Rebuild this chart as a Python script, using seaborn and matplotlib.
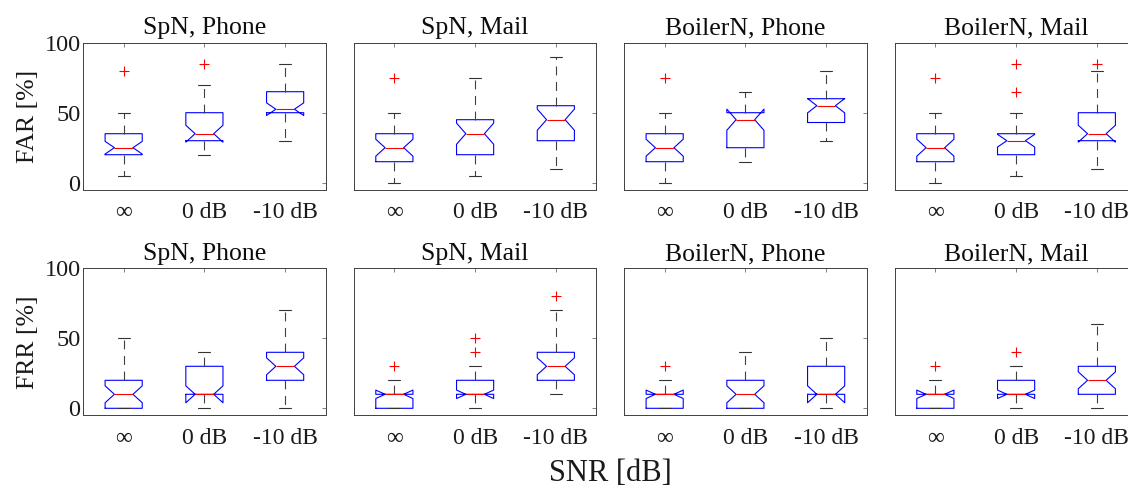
import numpy as np
import matplotlib
matplotlib.use("Agg")
import matplotlib.pyplot as plt
import seaborn as sns

# box statistics (per panel: inf, 0 dB, -10 dB)
conditions = ["\u221e", "0 dB", "-10 dB"]
panels = ["SpN, Phone", "SpN, Mail", "BoilerN, Phone", "BoilerN, Mail"]
n_trials = 27  # approx. samples per box (used for the notch width)

far_whislo = [[5, 20, 30], [0, 5, 10], [0, 15, 30], [0, 5, 10]]
far_q1 = [[20, 30, 50], [15, 20, 30], [15, 25, 43], [15, 20, 30]]
far_med = [[25, 35, 52.5], [25, 35, 45], [25, 45, 55], [25, 30, 35]]
far_q3 = [[35, 50, 65], [35, 45, 55], [35, 50, 60], [35, 35, 50]]
far_whishi = [[50, 70, 85], [50, 75, 90], [50, 65, 80], [50, 50, 80]]
far_fliers = [[[80], [85], []], [[75], [], []], [[75], [], []], [[75], [65, 85], [85]]]

frr_whislo = [[0, 0, 0], [0, 0, 10], [0, 0, 0], [0, 0, 0]]
frr_q1 = [[0, 10, 20], [0, 10, 20], [0, 0, 10], [0, 10, 10]]
frr_med = [[10, 10, 30], [10, 10, 30], [10, 10, 10], [10, 10, 20]]
frr_q3 = [[20, 30, 40], [10, 20, 40], [10, 20, 30], [10, 20, 30]]
frr_whishi = [[50, 40, 70], [20, 30, 70], [20, 40, 50], [20, 30, 60]]
frr_fliers = [[[], [], []], [[30], [40, 50], [80]], [[30], [], []], [[30], [40], []]]

sns.set_theme(style="white")
plt.rcParams["font.family"] = ["Liberation Serif", "DejaVu Serif"]


def make_stats(whislo, q1, med, q3, whishi, fliers):
    out = []
    for k in range(len(med)):
        half = 1.57 * (q3[k] - q1[k]) / np.sqrt(n_trials)
        out.append(dict(whislo=whislo[k], q1=q1[k], med=med[k], q3=q3[k],
                        whishi=whishi[k], fliers=fliers[k],
                        cilo=med[k] - half, cihi=med[k] + half))
    return out


rows = [
    ("FAR [%]", far_whislo, far_q1, far_med, far_q3, far_whishi, far_fliers),
    ("FRR [%]", frr_whislo, frr_q1, frr_med, frr_q3, frr_whishi, frr_fliers),
]

fig = plt.figure(figsize=(11.28, 4.9), dpi=100)
W, H = 1128.0, 490.0
col_left = [83.3, 354.0, 624.3, 895.0]
row_top = [42.7, 268.3]
ax_w, ax_h = 242.2, 147.0

for r, (ylab, wlo, q1, med, q3, whi, fl) in enumerate(rows):
    for c, title in enumerate(panels):
        ax = fig.add_axes([col_left[c] / W, 1 - (row_top[r] + ax_h) / H,
                           ax_w / W, ax_h / H])
        stats = make_stats(wlo[c], q1[c], med[c], q3[c], whi[c], fl[c])
        ax.bxp(stats, positions=[1, 2, 3], widths=0.46, capwidths=0.15,
               shownotches=True, patch_artist=False,
               boxprops=dict(color="blue", linewidth=0.8),
               medianprops=dict(color="red", linewidth=0.8),
               whiskerprops=dict(color="0.25", linewidth=0.8, linestyle=(0, (8, 6))),
               capprops=dict(color="0.2", linewidth=0.8),
               flierprops=dict(marker="+", markeredgecolor="red", markersize=7,
                               markeredgewidth=0.8, linestyle="none"))
        ax.set_xlim(0.5, 3.5)
        ax.set_ylim(-5, 100)
        ax.set_xticks([1, 2, 3])
        ax.set_xticklabels(conditions)
        ax.set_yticks([0, 50, 100])
        ax.tick_params(direction="in", length=3, width=0.5, color="0.3",
                       top=True, right=True, labelsize=17, labelcolor="0.1")
        ax.tick_params(axis="x", pad=9)
        ax.tick_params(axis="y", pad=2, labelsize=17.5)
        for s in ax.spines.values():
            s.set_color("0.25")
            s.set_linewidth(0.7)
        ax.set_title(title, fontsize=18.5, pad=6, color="0.05")
        if c == 0:
            ax.set_ylabel(ylab, fontsize=18.5, labelpad=4, color="0.1")
        else:
            ax.set_yticklabels([])

fig.text(610 / W, 2 / H, "SNR [dB]", ha="center", va="bottom",
         fontsize=22, color="0.1")

fig.savefig("out.png", dpi=100)
